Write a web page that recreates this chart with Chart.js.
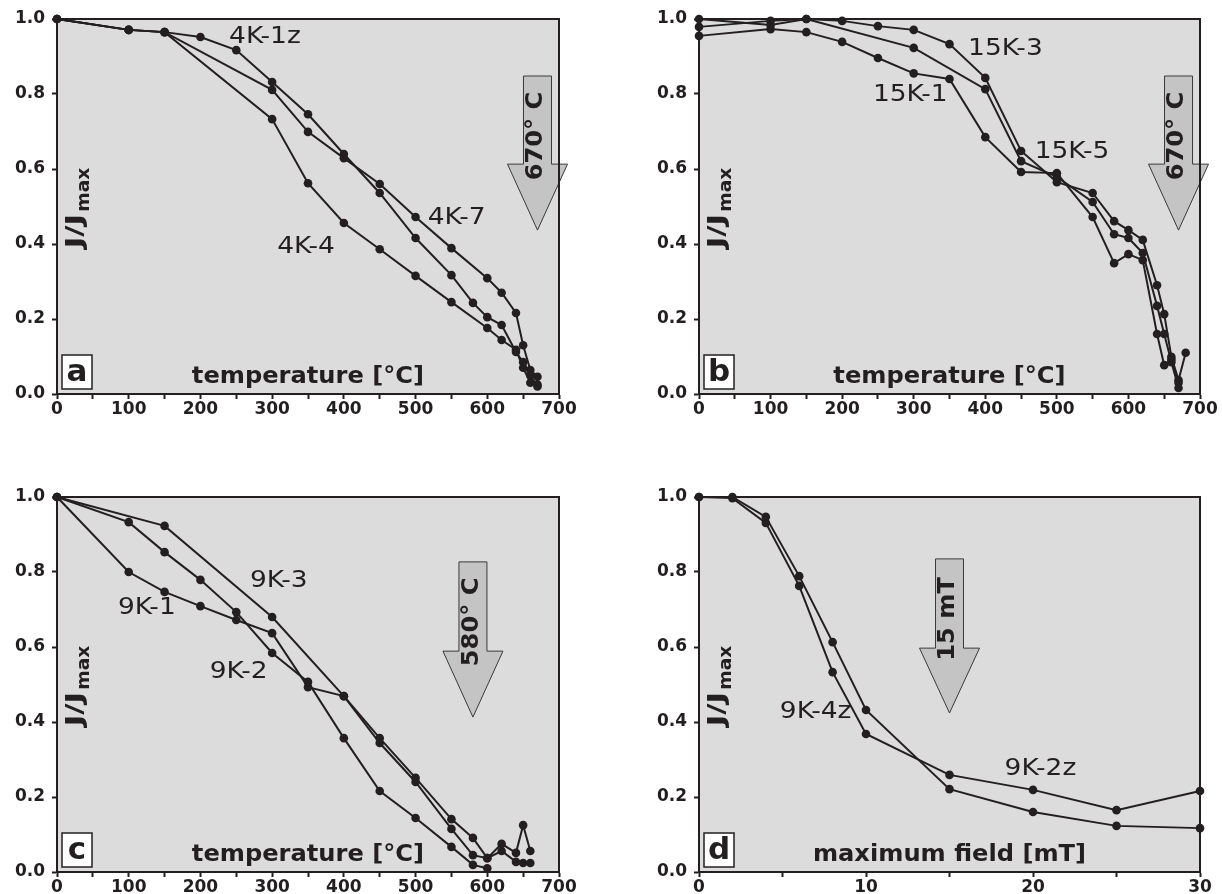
<!DOCTYPE html>
<html><head><meta charset="utf-8">
<script src="https://cdn.jsdelivr.net/npm/chart.js@4/dist/chart.umd.min.js"></script>
<style>
html,body{margin:0;padding:0;background:#fff;overflow:hidden;width:1222px;height:894px;}
canvas{position:absolute;}
</style></head><body>
<canvas id="ca" width="611" height="416" style="left:0;top:0"></canvas>
<canvas id="cb" width="580" height="416" style="left:642px;top:0"></canvas>
<canvas id="cc" width="611" height="416" style="left:0;top:478px"></canvas>
<canvas id="cd" width="580" height="416" style="left:642px;top:478px"></canvas>
<script>
// ---------- tick labels ----------
const tempTickLabels = [0, 100, 200, 300, 400, 500, 600, 700];
const fieldTickLabels = [0, 10, 20, 30];
const yTickLabels = [0.0, 0.2, 0.4, 0.6, 0.8, 1.0];

// ---------- panel a ----------
const a_4K1z_T = [0, 100, 150, 200, 250, 300, 350, 400, 450, 500, 550, 580, 600, 620, 640, 650, 660, 670];
const a_4K1z_J = [1.0, 0.971, 0.965, 0.952, 0.917, 0.832, 0.746, 0.640, 0.536, 0.416, 0.317, 0.243, 0.205, 0.184, 0.112, 0.085, 0.050, 0.020];
const a_4K7_T = [0, 100, 150, 300, 350, 400, 450, 500, 550, 600, 620, 640, 650, 660, 670];
const a_4K7_J = [1.0, 0.971, 0.965, 0.811, 0.699, 0.629, 0.560, 0.472, 0.389, 0.309, 0.270, 0.216, 0.130, 0.064, 0.046];
const a_4K4_T = [0, 100, 150, 300, 350, 400, 450, 500, 550, 600, 620, 640, 650, 660, 670];
const a_4K4_J = [1.0, 0.971, 0.965, 0.733, 0.562, 0.456, 0.386, 0.315, 0.245, 0.176, 0.144, 0.118, 0.070, 0.030, 0.025];

// ---------- panel b ----------
const b_15K3_T = [0, 100, 150, 200, 250, 300, 350, 400, 450, 500, 550, 580, 600, 620, 640, 650, 660, 670, 680];
const b_15K3_J = [0.979, 0.995, 1.0, 0.995, 0.981, 0.971, 0.933, 0.843, 0.648, 0.565, 0.536, 0.461, 0.437, 0.411, 0.290, 0.213, 0.099, 0.037, 0.110];
const b_15K5_T = [0, 100, 150, 300, 400, 450, 500, 550, 580, 600, 620, 640, 650, 660, 670];
const b_15K5_J = [1.0, 0.984, 1.0, 0.923, 0.813, 0.621, 0.579, 0.512, 0.426, 0.416, 0.376, 0.235, 0.160, 0.085, 0.016];
const b_15K1_T = [0, 100, 150, 200, 250, 300, 350, 400, 450, 500, 550, 580, 600, 620, 640, 650, 660, 670];
const b_15K1_J = [0.955, 0.973, 0.965, 0.939, 0.896, 0.855, 0.840, 0.685, 0.592, 0.589, 0.472, 0.349, 0.373, 0.357, 0.160, 0.077, 0.092, 0.030];

// ---------- panel c ----------
const c_9K3_T = [0, 150, 300, 400, 450, 500, 550, 580, 600, 620, 640, 650, 660];
const c_9K3_J = [1.0, 0.923, 0.680, 0.469, 0.357, 0.251, 0.141, 0.091, 0.037, 0.075, 0.051, 0.125, 0.056];
const c_9K1_T = [0, 100, 150, 200, 250, 300, 350, 400, 450, 500, 550, 580, 600, 620, 640, 650, 660];
const c_9K1_J = [1.0, 0.800, 0.747, 0.709, 0.672, 0.637, 0.493, 0.469, 0.344, 0.240, 0.115, 0.045, 0.037, 0.056, 0.027, 0.024, 0.024];
const c_9K2_T = [0, 100, 150, 200, 250, 300, 350, 400, 450, 500, 550, 580, 600];
const c_9K2_J = [1.0, 0.933, 0.853, 0.779, 0.693, 0.584, 0.507, 0.357, 0.216, 0.144, 0.067, 0.019, 0.010];

// ---------- panel d ----------
const d_field = [0, 2, 4, 6, 8, 10, 15, 20, 25, 30];
const d_9K4z_J = [1.0, 1.0, 0.947, 0.789, 0.613, 0.432, 0.221, 0.160, 0.123, 0.117];
const d_9K2z_J = [1.0, 0.997, 0.931, 0.763, 0.533, 0.368, 0.259, 0.219, 0.165, 0.216];

// ---------- styling ----------
const BG = '#dcdcdc';
const INK = '#231f20';
const FONT = "'DejaVu Sans', Verdana, sans-serif";

function pts(xs, ys) { return xs.map((v, i) => ({x: v, y: ys[i]})); }

function txt(ctx, s, x, y, font, opt) {
  opt = opt || {};
  ctx.save();
  ctx.font = font;
  ctx.fillStyle = INK;
  ctx.textBaseline = opt.baseline || 'middle';
  ctx.textAlign = opt.align || 'left';
  if ('letterSpacing' in ctx) ctx.letterSpacing = (opt.ls || 0) + 'px';
  ctx.translate(x, y);
  if (opt.rot) ctx.rotate(opt.rot);
  ctx.scale(opt.sx || 1, 1);
  ctx.fillText(s, 0, 0);
  ctx.restore();
}

const panelPlugin = {
  id: 'panelDeco',
  beforeDraw(chart) {
    const {ctx, chartArea: a} = chart;
    ctx.save();
    ctx.fillStyle = BG;
    ctx.fillRect(a.left, a.top, a.right - a.left, a.bottom - a.top);
    ctx.restore();
  },
  beforeDatasetsDraw(chart) {
    const {ctx, chartArea: a, scales: {x, y}} = chart;
    const p = chart.options.plugins.panelDeco;
    const ar = p.arrow;
    const cx = x.getPixelForValue(ar.x);
    const yt = y.getPixelForValue(ar.top), yb = y.getPixelForValue(ar.base), yp = y.getPixelForValue(ar.tip);
    const sw = 14, hw = 30;
    ctx.save();
    ctx.beginPath();
    ctx.moveTo(cx - sw, yt); ctx.lineTo(cx + sw, yt); ctx.lineTo(cx + sw, yb);
    ctx.lineTo(cx + hw, yb); ctx.lineTo(cx, yp); ctx.lineTo(cx - hw, yb);
    ctx.lineTo(cx - sw, yb); ctx.closePath();
    ctx.fillStyle = '#c4c4c4'; ctx.fill();
    ctx.strokeStyle = '#3a3a3a'; ctx.lineWidth = 1; ctx.stroke();
    ctx.restore();
    txt(ctx, ar.text, cx - 1, yt + 60, 'bold 23px ' + FONT, {rot: -Math.PI / 2, align: 'center', sx: 1.05});
    // frame
    ctx.save();
    ctx.strokeStyle = INK; ctx.lineWidth = 2;
    ctx.strokeRect(a.left, a.top, a.right - a.left, a.bottom - a.top);
    ctx.restore();
  },
  afterDraw(chart) {
    const {ctx, chartArea: a, scales: {x, y}} = chart;
    const p = chart.options.plugins.panelDeco;
    // series labels
    p.labels.forEach(l => {
      txt(ctx, l.text, x.getPixelForValue(l.x), y.getPixelForValue(l.y), '23px ' + FONT, {sx: 1.15});
    });
    // x title (inside)
    txt(ctx, p.xTitle, (a.left + a.right) / 2, a.bottom - 17, 'bold 23px ' + FONT, {align: 'center', sx: 1.05});
    // y title (inside, rotated)
    ctx.save();
    ctx.translate(a.left + 25, a.top + (a.bottom - a.top) * 0.504);
    ctx.rotate(-Math.PI / 2);
    ctx.fillStyle = INK;
    ctx.textBaseline = 'alphabetic';
    const s1 = 1.35, s2 = 1.1;
    ctx.font = 'bold 23px ' + FONT;
    const w1 = ctx.measureText('J/J').width * s1;
    ctx.font = 'bold 17px ' + FONT;
    const w2 = ctx.measureText('max').width * s2;
    const start = -(w1 + w2 + 2) / 2;
    ctx.save();
    ctx.translate(start, 0); ctx.scale(s1, 1);
    ctx.font = 'bold 23px ' + FONT;
    ctx.fillText('J/J', 0, 0);
    ctx.restore();
    ctx.save();
    ctx.translate(start + w1 + 2, 7); ctx.scale(s2, 1);
    ctx.font = 'bold 17px ' + FONT;
    ctx.fillText('max', 0, 0);
    ctx.restore();
    ctx.restore();
    // panel letter box
    const bx = a.left + 5, bh = 34, bw = 30, by = a.bottom - 5 - bh;
    ctx.save();
    ctx.fillStyle = '#ffffff';
    ctx.fillRect(bx, by, bw, bh);
    ctx.strokeStyle = INK; ctx.lineWidth = 1.5;
    ctx.strokeRect(bx, by, bw, bh);
    ctx.restore();
    txt(ctx, p.letter, bx + bw / 2, by + bh / 2 + 1, 'bold 31px ' + FONT, {align: 'center'});
  }
};

function makePanel(id, series, xMax, xStep, xLabels, deco, rightPad) {
  const datasets = series.map(s => ({
    data: pts(s[0], s[1]),
    borderColor: INK, borderWidth: 2,
    pointRadius: 4.3, pointBackgroundColor: INK, pointBorderWidth: 0,
    pointHoverRadius: 4.3, tension: 0, fill: false, clip: false
  }));
  return new Chart(document.getElementById(id), {
    type: 'line',
    data: {datasets},
    plugins: [panelPlugin],
    options: {
      responsive: false, animation: false, events: [],
      layout: {padding: {left: 0, top: 19, right: rightPad, bottom: 0}},
      plugins: {legend: {display: false}, tooltip: {enabled: false}, panelDeco: deco},
      scales: {
        x: {
          type: 'linear', min: 0, max: xMax,
          afterFit: s => { s.height = 22; },
          border: {display: true, color: INK, width: 2},
          grid: {display: true, drawOnChartArea: false, drawTicks: true, tickLength: 5, tickWidth: 2, tickColor: INK},
          ticks: {
            stepSize: xStep, autoSkip: false, maxRotation: 0, padding: 0, color: INK,
            font: {family: FONT, size: 17, weight: 'bold'},
            callback: v => xLabels.includes(v) ? String(v) : ''
          }
        },
        y: {
          type: 'linear', min: 0, max: 1,
          afterFit: s => { s.width = 57; },
          border: {display: true, color: INK, width: 2},
          grid: {display: true, drawOnChartArea: false, drawTicks: true, tickLength: 5, tickWidth: 2, tickColor: INK},
          ticks: {
            stepSize: 0.2, padding: 7, color: INK,
            font: {family: FONT, size: 17, weight: 'bold'},
            callback: v => {
              const r = Math.round(v * 10) / 10;
              return yTickLabels.includes(r) ? r.toFixed(1) : '';
            }
          }
        }
      }
    }
  });
}

makePanel('ca',
  [[a_4K1z_T, a_4K1z_J], [a_4K7_T, a_4K7_J], [a_4K4_T, a_4K4_J]],
  700, 50, tempTickLabels,
  {letter: 'a', xTitle: 'temperature [°C]',
   arrow: {x: 670, top: 0.848, base: 0.613, tip: 0.437, text: '670° C'},
   labels: [{text: '4K-1z', x: 240, y: 0.952}, {text: '4K-7', x: 517, y: 0.469}, {text: '4K-4', x: 307, y: 0.392}]},
  52);

makePanel('cb',
  [[b_15K3_T, b_15K3_J], [b_15K5_T, b_15K5_J], [b_15K1_T, b_15K1_J]],
  700, 50, tempTickLabels,
  {letter: 'b', xTitle: 'temperature [°C]',
   arrow: {x: 670, top: 0.848, base: 0.613, tip: 0.437, text: '670° C'},
   labels: [{text: '15K-3', x: 376, y: 0.92}, {text: '15K-1', x: 243, y: 0.797}, {text: '15K-5', x: 469, y: 0.645}]},
  22);

makePanel('cc',
  [[c_9K3_T, c_9K3_J], [c_9K1_T, c_9K1_J], [c_9K2_T, c_9K2_J]],
  700, 50, tempTickLabels,
  {letter: 'c', xTitle: 'temperature [°C]',
   arrow: {x: 580, top: 0.827, base: 0.589, tip: 0.413, text: '580° C'},
   labels: [{text: '9K-3', x: 269, y: 0.776}, {text: '9K-1', x: 85, y: 0.704}, {text: '9K-2', x: 213, y: 0.533}]},
  52);

makePanel('cd',
  [[d_field, d_9K4z_J], [d_field, d_9K2z_J]],
  30, 5, fieldTickLabels,
  {letter: 'd', xTitle: 'maximum field [mT]',
   arrow: {x: 15, top: 0.835, base: 0.597, tip: 0.424, text: '15 mT'},
   labels: [{text: '9K-4z', x: 4.84, y: 0.427}, {text: '9K-2z', x: 18.3, y: 0.275}]},
  22);
</script>
</body></html>
